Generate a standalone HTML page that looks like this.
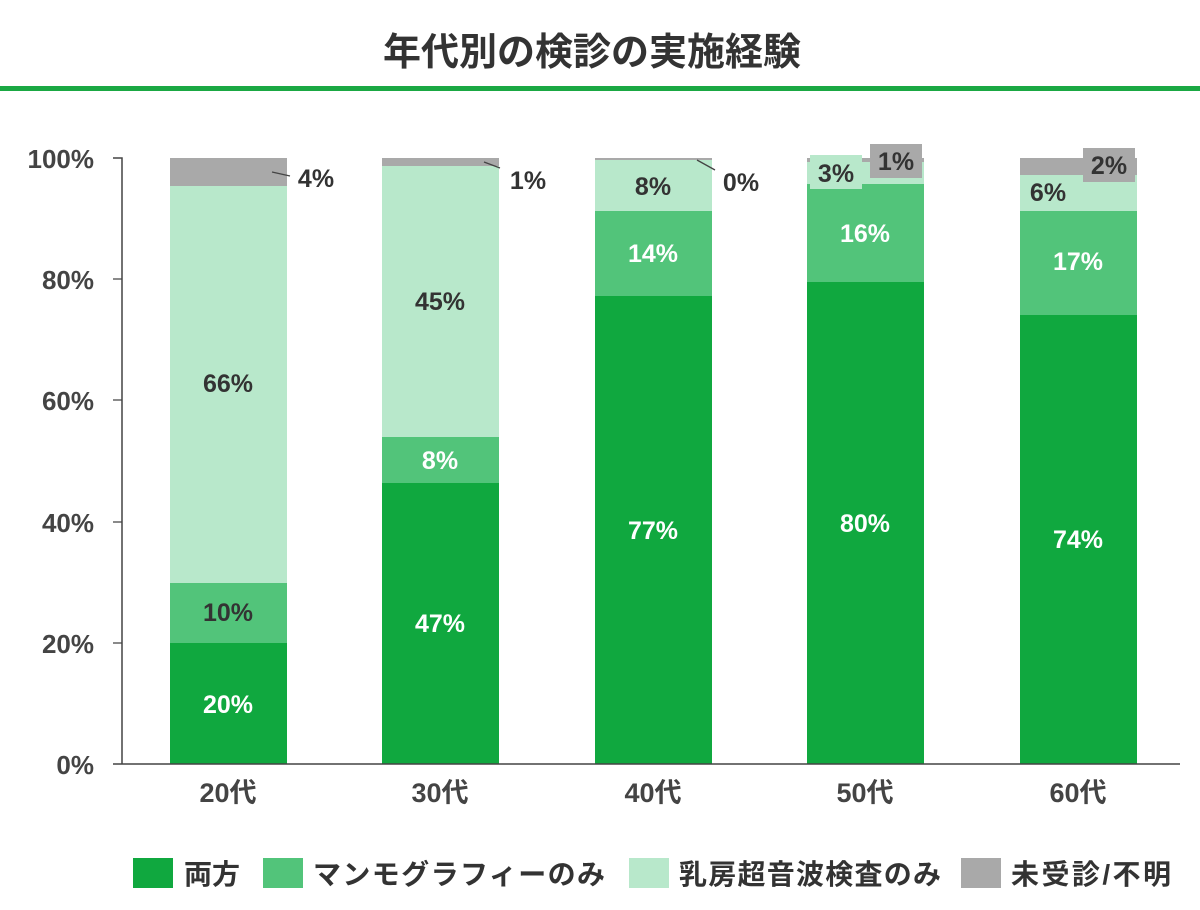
<!DOCTYPE html>
<html><head><meta charset="utf-8"><style>
body{margin:0;background:#fff;}
svg{display:block;font-family:"Liberation Sans","Noto Sans CJK JP",sans-serif;}
</style></head><body>
<svg width="1200" height="910" viewBox="0 0 1200 910">
<text x="592" y="65" text-anchor="middle" font-size="38" font-weight="bold" fill="#333">年代別の検診の実施経験</text>
<rect x="0" y="86" width="1200" height="5" fill="#1aa843"/>
<g font-size="26" font-weight="bold" fill="#444" text-anchor="end">
<text x="94" y="168">100%</text><text x="94" y="289">80%</text><text x="94" y="410">60%</text>
<text x="94" y="532">40%</text><text x="94" y="653">20%</text><text x="94" y="774">0%</text>
</g>
<g>
<rect x="170" y="643" width="117" height="121" fill="#10a83f"/>
<rect x="170" y="583" width="117" height="60" fill="#52c47a"/>
<rect x="170" y="186" width="117" height="397" fill="#b8e8cb"/>
<rect x="170" y="158" width="117" height="28" fill="#a9a9a9"/>
<rect x="382" y="483" width="117" height="281" fill="#10a83f"/>
<rect x="382" y="437" width="117" height="46" fill="#52c47a"/>
<rect x="382" y="166" width="117" height="271" fill="#b8e8cb"/>
<rect x="382" y="158" width="117" height="8" fill="#a9a9a9"/>
<rect x="595" y="296" width="117" height="468" fill="#10a83f"/>
<rect x="595" y="211" width="117" height="85" fill="#52c47a"/>
<rect x="595" y="160" width="117" height="51" fill="#b8e8cb"/>
<rect x="595" y="158" width="117" height="2" fill="#a9a9a9"/>
<rect x="807" y="282" width="117" height="482" fill="#10a83f"/>
<rect x="807" y="184" width="117" height="98" fill="#52c47a"/>
<rect x="807" y="162" width="117" height="22" fill="#b8e8cb"/>
<rect x="807" y="158" width="117" height="4" fill="#a9a9a9"/>
<rect x="1020" y="315" width="117" height="449" fill="#10a83f"/>
<rect x="1020" y="211" width="117" height="104" fill="#52c47a"/>
<rect x="1020" y="175" width="117" height="36" fill="#b8e8cb"/>
<rect x="1020" y="158" width="117" height="17" fill="#a9a9a9"/>
</g>
<path d="M113 158H122V764H113M122 764H1180" stroke="#444" stroke-width="1.5" fill="none"/>
<g stroke="#444" stroke-width="1.3" fill="none">
<path d="M113 279H122M113 400H122M113 522H122M113 643H122"/>
<path d="M272 172L290 176M484 162L500 168M697 160L715 170"/>
</g>
<g font-size="25" font-weight="bold" text-anchor="middle">
<text x="228" y="713" fill="#fff">20%</text>
<text x="228" y="621" fill="#333">10%</text>
<text x="228" y="392" fill="#333">66%</text>
<text x="316" y="187" fill="#333">4%</text>
<text x="440" y="632" fill="#fff">47%</text>
<text x="440" y="469" fill="#fff">8%</text>
<text x="440" y="310" fill="#333">45%</text>
<text x="528" y="189" fill="#333">1%</text>
<text x="653" y="539" fill="#fff">77%</text>
<text x="653" y="262" fill="#fff">14%</text>
<text x="653" y="195" fill="#333">8%</text>
<text x="741" y="191" fill="#333">0%</text>
<text x="865" y="532" fill="#fff">80%</text>
<text x="865" y="242" fill="#fff">16%</text>
<text x="1078" y="548" fill="#fff">74%</text>
<text x="1078" y="270" fill="#fff">17%</text>
</g>
<rect x="810" y="155" width="52" height="34" fill="#b8e8cb"/>
<rect x="870" y="144" width="52" height="34" fill="#a9a9a9"/>
<rect x="1083" y="148" width="52" height="34" fill="#a9a9a9"/>
<g font-size="25" font-weight="bold" text-anchor="middle" fill="#333">
<text x="836" y="182">3%</text><text x="896" y="170">1%</text>
<text x="1109" y="174">2%</text><text x="1048" y="201">6%</text>
</g>
<g font-size="27" font-weight="bold" fill="#444" text-anchor="middle">
<text x="228" y="802">20代</text><text x="440" y="802">30代</text><text x="653" y="802">40代</text>
<text x="865" y="802">50代</text><text x="1078" y="802">60代</text>
</g>
<g font-size="28" font-weight="bold" fill="#333">
<rect x="133" y="858" width="40" height="30" fill="#10a83f"/><text x="184" y="884">両方</text>
<rect x="263" y="858" width="40" height="30" fill="#52c47a"/><text x="313" y="884" textLength="292">マンモグラフィーのみ</text>
<rect x="629" y="858" width="40" height="30" fill="#b8e8cb"/><text x="679" y="884" textLength="262">乳房超音波検査のみ</text>
<rect x="961" y="858" width="40" height="30" fill="#a9a9a9"/><text x="1011" y="884" textLength="160">未受診/不明</text>
</g>
</svg>
</body></html>
